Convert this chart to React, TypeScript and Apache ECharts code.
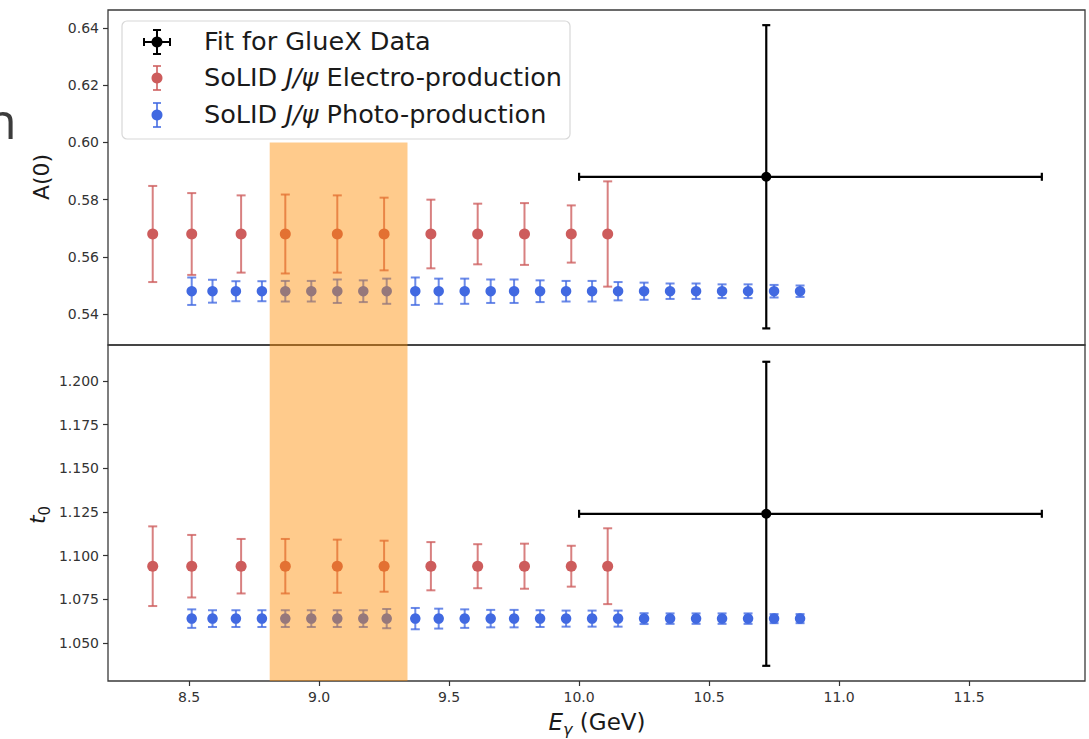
import React, { useEffect, useRef } from "react";
import * as echarts from "echarts";

// ---------- data ----------
const xTicks = [8.5, 9.0, 9.5, 10.0, 10.5, 11.0, 11.5];
const aTicks = [0.54, 0.56, 0.58, 0.6, 0.62, 0.64];
const t0Ticks = [1.05, 1.075, 1.1, 1.125, 1.15, 1.175, 1.2];

const electroE = [8.36, 8.51, 8.7, 8.87, 9.07, 9.25, 9.43, 9.61, 9.79, 9.97, 10.11];
const electroA = [0.568, 0.568, 0.568, 0.568, 0.568, 0.568, 0.568, 0.568, 0.568, 0.568, 0.568];
const electroAErr = [0.0168, 0.0143, 0.0135, 0.0138, 0.0135, 0.0127, 0.012, 0.0106, 0.0108, 0.01, 0.0184];
const electroT0 = [1.094, 1.094, 1.094, 1.094, 1.094, 1.094, 1.094, 1.094, 1.094, 1.094, 1.094];
const electroT0Err = [0.0228, 0.0179, 0.0156, 0.0156, 0.0152, 0.0146, 0.0138, 0.0126, 0.0129, 0.0117, 0.0217];

const photoE = [8.51, 8.59, 8.68, 8.78, 8.87, 8.97, 9.07, 9.17, 9.26, 9.37, 9.46, 9.56, 9.66, 9.75, 9.85, 9.95, 10.05, 10.15, 10.25, 10.35, 10.45, 10.55, 10.65, 10.75, 10.85];
const photoA = [0.548, 0.548, 0.548, 0.548, 0.548, 0.548, 0.548, 0.548, 0.548, 0.548, 0.548, 0.548, 0.548, 0.548, 0.548, 0.548, 0.548, 0.548, 0.548, 0.548, 0.548, 0.548, 0.548, 0.548, 0.548];
const photoAErr = [0.0048, 0.004, 0.0035, 0.0035, 0.0036, 0.0036, 0.0041, 0.0038, 0.0044, 0.0048, 0.0044, 0.0044, 0.0041, 0.0041, 0.0038, 0.0036, 0.0036, 0.0032, 0.003, 0.0027, 0.0027, 0.0024, 0.0024, 0.0022, 0.002];
const photoT0 = [1.064, 1.064, 1.064, 1.064, 1.064, 1.064, 1.064, 1.064, 1.064, 1.064, 1.064, 1.064, 1.064, 1.064, 1.064, 1.064, 1.064, 1.064, 1.064, 1.064, 1.064, 1.064, 1.064, 1.064, 1.064];
const photoT0Err = [0.0053, 0.0048, 0.0048, 0.0048, 0.0048, 0.0048, 0.0048, 0.0048, 0.0055, 0.0061, 0.0057, 0.0053, 0.005, 0.005, 0.0048, 0.0046, 0.0046, 0.0046, 0.0031, 0.003, 0.003, 0.003, 0.003, 0.0026, 0.0026];

const gluexE = 10.72;
const gluexELow = 10.0;
const gluexEHigh = 11.78;
const gluexA = 0.588;
const gluexAErr = 0.053;
const gluexT0 = 1.124;
const gluexT0Err = 0.087;

const bandE = [8.81, 9.34];
const bandATop = 0.6;

// axis limits
const X_MIN = 8.188;
const X_MAX = 11.946;
const A_MIN = 0.5292;
const A_MAX = 0.6463;
const T_MIN = 1.0283;
const T_MAX = 1.2206;

// ---------- styles ----------
const FONT = "DejaVu Sans";
const RED = "#CD5C5C";
const RED_BAR = "rgba(205,92,92,0.78)";
const BLUE = "#4169E1";
const BLUE_BAR = "rgba(65,105,225,0.78)";
const BAND = "rgba(255,140,0,0.45)";

function errBarRender(color: string, cap: number) {
  return (params: any, api: any) => {
    const x = api.value(0);
    const y = api.value(1);
    const e = api.value(2);
    const top = api.coord([x, y + e]);
    const bot = api.coord([x, y - e]);
    const st = { stroke: color, lineWidth: 2 };
    return {
      type: "group",
      children: [
        { type: "line", shape: { x1: top[0], y1: top[1], x2: bot[0], y2: bot[1] }, style: st },
        { type: "line", shape: { x1: top[0] - cap, y1: top[1], x2: top[0] + cap, y2: top[1] }, style: st },
        { type: "line", shape: { x1: bot[0] - cap, y1: bot[1], x2: bot[0] + cap, y2: bot[1] }, style: st },
      ],
    };
  };
}

function gluexRender(params: any, api: any) {
  const x = api.value(0);
  const y = api.value(1);
  const xl = api.value(2);
  const xh = api.value(3);
  const e = api.value(4);
  const top = api.coord([x, y + e]);
  const bot = api.coord([x, y - e]);
  const lft = api.coord([xl, y]);
  const rgt = api.coord([xh, y]);
  const st = { stroke: "#000", lineWidth: 2.2 };
  const c = 4;
  return {
    type: "group",
    children: [
      { type: "line", shape: { x1: top[0], y1: top[1], x2: bot[0], y2: bot[1] }, style: st },
      { type: "line", shape: { x1: top[0] - c, y1: top[1], x2: top[0] + c, y2: top[1] }, style: st },
      { type: "line", shape: { x1: bot[0] - c, y1: bot[1], x2: bot[0] + c, y2: bot[1] }, style: st },
      { type: "line", shape: { x1: lft[0], y1: lft[1], x2: rgt[0], y2: rgt[1] }, style: st },
      { type: "line", shape: { x1: lft[0], y1: lft[1] - c, x2: lft[0], y2: lft[1] + c }, style: st },
      { type: "line", shape: { x1: rgt[0], y1: rgt[1] - c, x2: rgt[0], y2: rgt[1] + c }, style: st },
    ],
  };
}

function bandRender(topValue: number | null) {
  return (params: any, api: any) => {
    const lo = api.value(0);
    const hi = api.value(1);
    const cs = params.coordSys;
    const p0 = api.coord([lo, topValue == null ? 0 : topValue]);
    const p1 = api.coord([hi, topValue == null ? 0 : topValue]);
    const y0 = topValue == null ? cs.y : p0[1];
    const y1 = cs.y + cs.height;
    return {
      type: "rect",
      shape: { x: p0[0], y: y0, width: p1[0] - p0[0], height: y1 - y0 },
      style: { fill: BAND },
    };
  };
}

function yAxis(gridIndex: number, min: number, max: number, ticks: number[], digits: number) {
  return {
    type: "value",
    gridIndex,
    min,
    max,
    axisLine: { show: false },
    splitLine: { show: false },
    axisTick: { show: true, customValues: ticks, length: 5, lineStyle: { color: "#333", width: 1.2 } },
    axisLabel: {
      customValues: ticks,
      formatter: (v: number) => v.toFixed(digits),
      fontSize: 14,
      color: "#333",
      fontFamily: FONT,
      margin: 9,
    },
  };
}

export default function App() {
  const ref = useRef<HTMLDivElement>(null);

  useEffect(() => {
    if (!ref.current) return;
    const chart = echarts.init(ref.current, null, { renderer: "svg" });

    const eA = electroE.map((x, i) => [x, electroA[i], electroAErr[i]]);
    const eT = electroE.map((x, i) => [x, electroT0[i], electroT0Err[i]]);
    const pA = photoE.map((x, i) => [x, photoA[i], photoAErr[i]]);
    const pT = photoE.map((x, i) => [x, photoT0[i], photoT0Err[i]]);
    const gA = [[gluexE, gluexA, gluexELow, gluexEHigh, gluexAErr]];
    const gT = [[gluexE, gluexT0, gluexELow, gluexEHigh, gluexT0Err]];

    const series: any[] = [];
    const panels = [
      { idx: 0, e: eA, p: pA, g: gA, top: bandATop as number | null },
      { idx: 1, e: eT, p: pT, g: gT, top: null as number | null },
    ];
    panels.forEach((pn) => {
      const ax = { xAxisIndex: pn.idx, yAxisIndex: pn.idx };
      series.push({ type: "custom", ...ax, data: pn.e, renderItem: errBarRender(RED_BAR, 4.5), z: 2, silent: true });
      series.push({ type: "custom", ...ax, data: pn.p, renderItem: errBarRender(BLUE_BAR, 4.5), z: 2, silent: true });
      series.push({ type: "custom", ...ax, data: pn.g, renderItem: gluexRender, z: 2, silent: true });
      series.push({ type: "scatter", ...ax, data: pn.e.map((d) => [d[0], d[1]]), symbolSize: 11, itemStyle: { color: RED, opacity: 1 }, z: 3, silent: true });
      series.push({ type: "scatter", ...ax, data: pn.p.map((d) => [d[0], d[1]]), symbolSize: 10.5, itemStyle: { color: BLUE, opacity: 1 }, z: 3, silent: true });
      series.push({ type: "scatter", ...ax, data: pn.g.map((d) => [d[0], d[1]]), symbolSize: 10, itemStyle: { color: "#000", opacity: 1 }, z: 3, silent: true });
      series.push({ type: "custom", ...ax, data: [[bandE[0], bandE[1]]], renderItem: bandRender(pn.top), z: 10, silent: true });
    });

    const legendText = { fontSize: 24, fontFamily: FONT, fill: "#1a1a1a", verticalAlign: "middle" };
    const italic = { fontSize: 24, fontFamily: FONT, fontStyle: "italic", fill: "#1a1a1a" };
    const normal = { fontSize: 24, fontFamily: FONT, fill: "#1a1a1a" };
    const LX = 1.065;

    const icon = (cy: number, color: string, barColor: string, withX: boolean) => {
      const cx = 157;
      const st = { stroke: barColor, lineWidth: 2 };
      const kids: any[] = [
        { type: "line", shape: { x1: cx, y1: cy - 12, x2: cx, y2: cy + 12 }, style: st },
        { type: "line", shape: { x1: cx - 4, y1: cy - 12, x2: cx + 4, y2: cy - 12 }, style: st },
        { type: "line", shape: { x1: cx - 4, y1: cy + 12, x2: cx + 4, y2: cy + 12 }, style: st },
      ];
      if (withX) {
        kids.push({ type: "line", shape: { x1: cx - 13, y1: cy, x2: cx + 13, y2: cy }, style: st });
        kids.push({ type: "line", shape: { x1: cx - 13, y1: cy - 4, x2: cx - 13, y2: cy + 4 }, style: st });
        kids.push({ type: "line", shape: { x1: cx + 13, y1: cy - 4, x2: cx + 13, y2: cy + 4 }, style: st });
      }
      kids.push({ type: "circle", shape: { cx, cy, r: 5.5 }, style: { fill: color } });
      return kids;
    };

    chart.setOption({
      animation: false,
      grid: [
        { left: 108, top: 10, width: 977, height: 335, show: true, borderColor: "#3a3a3a", borderWidth: 1.3, backgroundColor: "transparent" },
        { left: 108, top: 345, width: 977, height: 336, show: true, borderColor: "#3a3a3a", borderWidth: 1.3, backgroundColor: "transparent" },
      ],
      xAxis: [
        {
          type: "value",
          gridIndex: 0,
          min: X_MIN,
          max: X_MAX,
          axisLine: { show: false },
          splitLine: { show: false },
          axisTick: { show: false },
          axisLabel: { show: false },
        },
        {
          type: "value",
          gridIndex: 1,
          min: X_MIN,
          max: X_MAX,
          axisLine: { show: false },
          splitLine: { show: false },
          axisTick: { show: true, customValues: xTicks, length: 5, lineStyle: { color: "#333", width: 1.2 } },
          axisLabel: {
            customValues: xTicks,
            formatter: (v: number) => v.toFixed(1),
            fontSize: 14,
            color: "#333",
            fontFamily: FONT,
            margin: 9,
          },
        },
      ],
      yAxis: [yAxis(0, A_MIN, A_MAX, aTicks, 2), yAxis(1, T_MIN, T_MAX, t0Ticks, 3)],
      series,
      graphic: [
        {
          type: "text",
          left: -14,
          top: 95,
          style: { text: "n", fontSize: 50, fontFamily: "Open Sans", fill: "#3c3c3c" },
          z: 50,
        },
        {
          type: "text",
          x: 41,
          y: 177,
          rotation: Math.PI / 2,
          style: { text: "A(0)", fontSize: 22, fontFamily: FONT, fill: "#1a1a1a", align: "center", verticalAlign: "middle" },
          z: 50,
        },
        {
          type: "text",
          x: 37,
          y: 515,
          rotation: Math.PI / 2,
          style: {
            text: "{t|t}{s|0}",
            align: "center",
            verticalAlign: "middle",
            rich: {
              t: { fontSize: 22, fontFamily: FONT, fontStyle: "italic", fill: "#1a1a1a", lineHeight: 30 },
              s: { fontSize: 15, fontFamily: FONT, fill: "#1a1a1a", verticalAlign: "bottom" },
            },
          },
          z: 50,
        },
        {
          type: "text",
          x: 597,
          y: 722,
          style: {
            text: "{e|E}{g|γ}{n| (GeV)}",
            align: "center",
            verticalAlign: "middle",
            rich: {
              e: { fontSize: 23, fontFamily: FONT, fontStyle: "italic", fill: "#1a1a1a", lineHeight: 30 },
              g: { fontSize: 16, fontFamily: FONT, fontStyle: "italic", fill: "#1a1a1a", verticalAlign: "bottom" },
              n: { fontSize: 23, fontFamily: FONT, fill: "#1a1a1a", lineHeight: 30 },
            },
          },
          z: 50,
        },
        {
          type: "group",
          z: 100,
          children: [
            {
              type: "rect",
              shape: { x: 122, y: 21, width: 448, height: 118, r: 5 },
              style: { fill: "rgba(255,255,255,0.85)", stroke: "#d8d8d8", lineWidth: 1.2 },
            },
            ...icon(42, "#000", "#000", true),
            ...icon(78, RED, RED_BAR, false),
            ...icon(115, BLUE, BLUE_BAR, false),
            { type: "text", x: 204, y: 42, scaleX: LX, style: { text: "Fit for GlueX Data", ...legendText } },
            {
              type: "text",
              x: 204,
              y: 78,
              scaleX: LX,
              style: { text: "SoLID {i|J/ψ} {n|Electro-production}", ...legendText, rich: { i: italic, n: normal } },
            },
            {
              type: "text",
              x: 204,
              y: 115,
              scaleX: LX,
              style: { text: "SoLID {i|J/ψ} {n|Photo-production}", ...legendText, rich: { i: italic, n: normal } },
            },
          ],
        },
      ],
    });

    return () => chart.dispose();
  }, []);

  return <div ref={ref} style={{ position: "absolute", left: 0, top: 0, width: 1089, height: 739 }} />;
}
